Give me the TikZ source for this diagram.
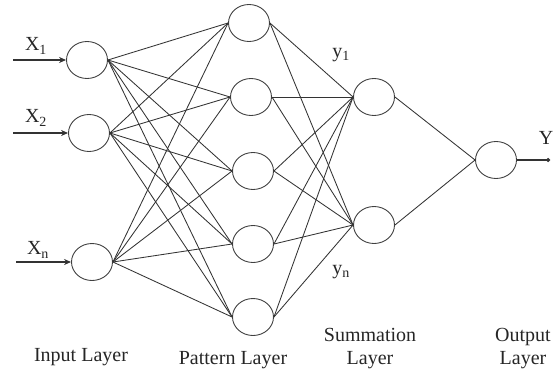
\documentclass[tikz,border=0pt]{standalone}
\usepackage{fontspec}
\setmainfont{Liberation Serif}
\usetikzlibrary{arrows.meta,shapes.geometric}

\begin{document}
\begin{tikzpicture}[x=1pt, y=-1pt,
    neuron/.style={draw=black!75, line width=0.9pt, ellipse, minimum width=41pt, minimum height=37pt, inner sep=0pt},
    link/.style={draw=black!80, line width=0.85pt},
    lbl/.style={font=\fontsize{20}{23}\selectfont, text=black!85, align=center}]
        \useasboundingbox (0,0) rectangle (553,377);
        % Camada de entrada
        \node[neuron] (in1) at (87,60) {};
        \node[neuron] (in2) at (89,133) {};
        \node[neuron] (in3) at (92,262) {};
        % Camada de padroes
        \node[neuron] (pt1) at (249,23) {};
        \node[neuron] (pt2) at (251,97) {};
        \node[neuron] (pt3) at (253,171) {};
        \node[neuron] (pt4) at (253,244) {};
        \node[neuron] (pt5) at (253,317) {};
        % Camada de soma
        \node[neuron] (sm1) at (374,97) {};
        \node[neuron] (sm2) at (374,225) {};
        % Camada de saida
        \node[neuron] (out) at (496,160) {};
        % Ligacoes
        \foreach \i in {1,2,3}
            \foreach \j in {1,...,5}
                \draw[link] (in\i.east) -- (pt\j.west);
        \foreach \j in {1,...,5}
            \foreach \k in {1,2}
                \draw[link] (pt\j.east) -- (sm\k.west);
        \foreach \k in {1,2}
            \draw[link] (sm\k.east) -- (out.west);
        % Entradas
        \coordinate (x1) at (13,60);
        \coordinate (x2) at (13,133);
        \coordinate (x3) at (16,262);
        \foreach \i in {1,2,3}
            \draw[link, line width=1.3pt, -{Stealth[length=7pt, width=6pt]}] (x\i) -- (in\i.west);
        \node[lbl] (lx1) at (36,46) {X\textsubscript{1}};
        \node[lbl] (lx2) at (36,118) {X\textsubscript{2}};
        \node[lbl] (lx3) at (38,250) {X\textsubscript{n}};
        % Saida
        \coordinate (yend) at (550,160);
        \draw[link, line width=1.2pt, -{Circle[length=4pt]}] (out.east) -- (yend);
        \node[lbl] (ly) at (546,138) {Y};
        % Rotulos
        \node[lbl] (ly1) at (341,55) {y\textsubscript{1}};
        \node[lbl] (lyn) at (341,272) {y\textsubscript{n}};
        \node[lbl] (linput) at (81,357) {Input Layer};
        \node[lbl] (lpattern) at (233,360) {Pattern Layer};
        \node[lbl] (lsum) at (370,349) {Summation\\Layer};
        \node[lbl] (lout) at (523,349) {Output\\Layer};
    \end{tikzpicture}
\end{document}
